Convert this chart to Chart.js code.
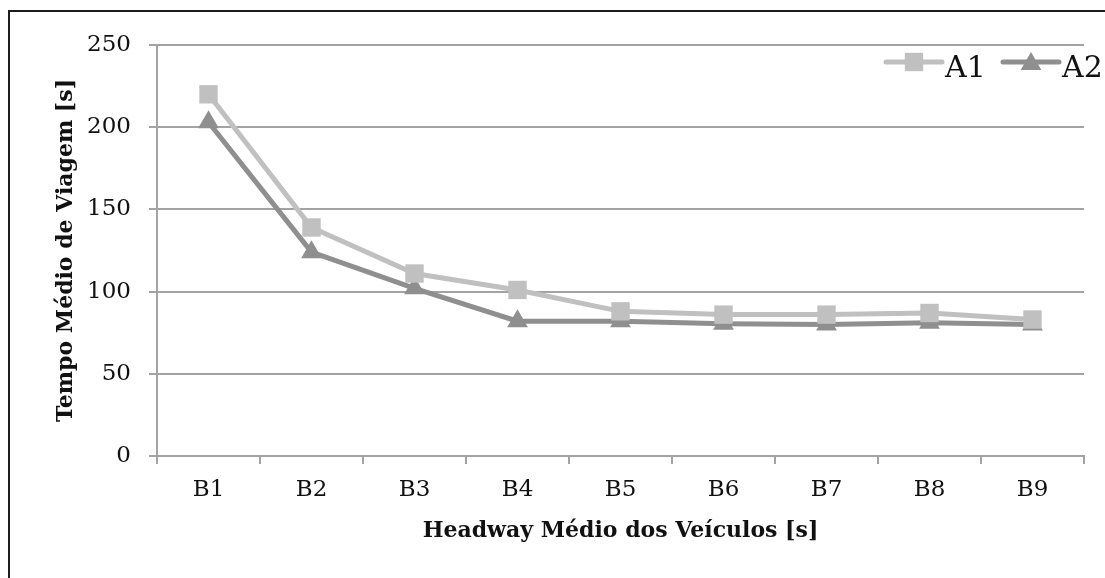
<!DOCTYPE html>
<html>
<head>
<meta charset="utf-8">
<script src="https://cdn.jsdelivr.net/npm/chart.js@4"></script>
<style>
  html, body { margin: 0; padding: 0; background: #fff; }
  #wrap { width: 1105px; height: 578px; position: relative; }
</style>
</head>
<body>
<div id="wrap"><canvas id="chart"></canvas></div>
<script>
const categories = ["B1", "B2", "B3", "B4", "B5", "B6", "B7", "B8", "B9"]
const seriesA1 = [220, 139, 111, 101, 88, 86, 86, 87, 83]
const seriesA2 = [203, 124, 102, 82, 82, 80.5, 80, 81, 80]
const yTicks = [0, 50, 100, 150, 200, 250]

const FONT = "'DejaVu Serif', 'Liberation Serif', serif"
const GRID = "#a3a3a3"

// outer frame of the original picture (only top and left edges are visible)
const framePlugin = {
  id: "frame",
  beforeDraw(chart) {
    const c = chart.ctx
    c.save()
    c.fillStyle = "#fff"
    c.fillRect(0, 0, chart.width, chart.height)
    c.strokeStyle = "#1e1e1e"
    c.lineWidth = 2
    c.strokeRect(9, 11, 1200, 1200)
    c.restore()
  },
}

// legend drawn inside the plot area, top right, with line + marker
const legendPlugin = {
  id: "lineLegend",
  afterDraw(chart) {
    const c = chart.ctx
    const y = 62
    const items = [
      { ds: chart.data.datasets[0], x0: 886 },
      { ds: chart.data.datasets[1], x0: 1003 },
    ]
    c.save()
    items.forEach(({ ds, x0 }) => {
      c.strokeStyle = ds.borderColor
      c.lineWidth = 5
      c.lineCap = "round"
      c.beginPath()
      c.moveTo(x0, y)
      c.lineTo(x0 + 56, y)
      c.stroke()
      c.fillStyle = ds.pointBackgroundColor
      Chart.helpers.drawPoint(c, {
        pointStyle: ds.pointStyle,
        radius: ds.pointRadius,
        rotation: 0,
        borderWidth: 0,
      }, x0 + 28, ds.pointStyle === "triangle" ? y + 2 : y)
      c.fillStyle = "#111"
      c.font = "30px " + FONT
      c.textBaseline = "alphabetic"
      c.textAlign = "left"
      c.fillText(ds.label, x0 + 59, y + 15)
    })
    c.restore()
  },
}

new Chart(document.getElementById("chart"), {
  type: "line",
  data: {
    labels: categories,
    datasets: [
      {
        label: "A1",
        data: seriesA1,
        borderColor: "#c0c0c0",
        backgroundColor: "#c0c0c0",
        pointBackgroundColor: "#c0c0c0",
        pointBorderColor: "#c0c0c0",
        borderWidth: 5,
        pointStyle: "rect",
        pointRadius: 13,
        pointBorderWidth: 0,
        tension: 0,
      },
      {
        label: "A2",
        data: seriesA2,
        borderColor: "#8f8f8f",
        backgroundColor: "#8f8f8f",
        pointBackgroundColor: "#8f8f8f",
        pointBorderColor: "#8f8f8f",
        borderWidth: 5,
        pointStyle: "triangle",
        pointRadius: 12,
        pointBorderWidth: 0,
        tension: 0,
      },
    ],
  },
  options: {
    responsive: true,
    maintainAspectRatio: false,
    animation: false,
    layout: { padding: { left: 0, top: 45, right: 21, bottom: 0 } },
    plugins: {
      legend: { display: false },
      tooltip: { enabled: false },
    },
    scales: {
      x: {
        offset: true,
        afterFit: (s) => { s.height = 122 },
        grid: {
          offset: true,
          drawOnChartArea: false,
          color: GRID,
          lineWidth: 2,
          tickLength: 8,
        },
        border: { color: GRID, width: 2 },
        ticks: {
          color: "#111",
          font: { family: FONT, size: 23 },
          padding: 12,
        },
        title: {
          display: true,
          text: "Headway Médio dos Veículos [s]",
          color: "#111",
          font: { family: FONT, size: 22, weight: "bold" },
          padding: { top: 0, bottom: 34 },
        },
      },
      y: {
        min: 0,
        max: 250,
        afterFit: (s) => { s.width = 157 },
        afterBuildTicks: (s) => { s.ticks = yTicks.map((v) => ({ value: v })) },
        grid: {
          color: GRID,
          lineWidth: 2,
          tickLength: 8,
        },
        border: { color: GRID, width: 2 },
        ticks: {
          color: "#111",
          font: { family: FONT, size: 23 },
          padding: 18,
        },
        title: {
          display: true,
          text: "Tempo Médio de Viagem [s]",
          color: "#111",
          font: { family: FONT, size: 22, weight: "bold" },
          padding: { top: 53, bottom: 0 },
        },
      },
    },
  },
  plugins: [framePlugin, legendPlugin],
})
</script>
</body>
</html>
